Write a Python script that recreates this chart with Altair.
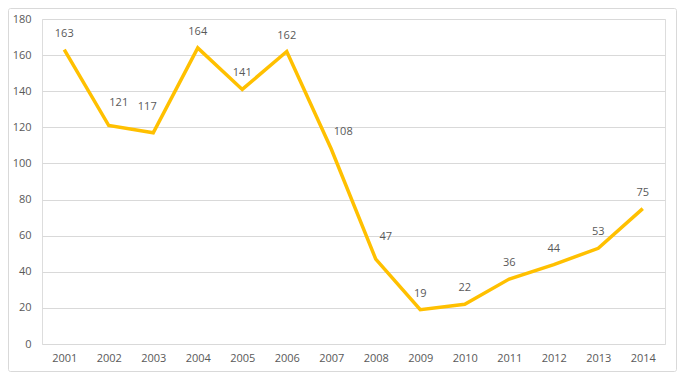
import altair as alt
import pandas as pd

years = [str(y) for y in range(2001, 2015)]
values = [163, 121, 117, 164, 141, 162, 108, 47, 19, 22, 36, 44, 53, 75]

# label placement tweaks (dx, dy) for labels moved off the line
label_nudges = {"2002": (10, -23), "2003": (-6, -26), "2007": (12, -17), "2008": (10, -22)}

df = pd.DataFrame({"year": years, "value": values})

W, H = 623, 325
FONT = "Open Sans"
TXT = "#595959"

x = alt.X("year:O", title=None, sort=years,
          scale=alt.Scale(type="point", padding=0.5),
          axis=alt.Axis(labelAngle=0, ticks=False, domain=False, labelPadding=8,
                        labelFont=FONT, labelFontSize=11, labelColor=TXT))
y = alt.Y("value:Q", title=None,
          scale=alt.Scale(domain=[0, 180], nice=False),
          axis=alt.Axis(values=list(range(0, 181, 20)), ticks=False, domain=False,
                        labelPadding=11, gridColor="#d9d9d9", gridWidth=1,
                        labelFont=FONT, labelFontSize=11, labelColor=TXT))

base = alt.Chart(df)

border = alt.Chart(pd.DataFrame({"a": [0]})).mark_rect(
    fill=None, stroke="#d9d9d9", strokeWidth=1, cornerRadius=2
).encode(x=alt.value(-33.5), x2=alt.value(W + 11.5), y=alt.value(-10.5), y2=alt.value(H + 27.5))

line = base.mark_line(color="#FFC000", strokeWidth=3.5, strokeJoin="miter").encode(x=x, y=y)

nudged = list(label_nudges.keys())
layers = [border, line]
layers.append(
    base.transform_filter(
        {"not": alt.FieldOneOfPredicate(field="year", oneOf=nudged)}
    ).mark_text(dy=-16, font=FONT, fontSize=11, color=TXT).encode(x=x, y=y, text="value:Q")
)
for yr, (dx, dy) in label_nudges.items():
    layers.append(
        base.transform_filter(alt.FieldEqualPredicate(field="year", equal=yr))
        .mark_text(dx=dx, dy=dy, font=FONT, fontSize=11, color=TXT)
        .encode(x=x, y=y, text="value:Q")
    )

chart = alt.layer(*layers).properties(
    width=W, height=H,
    autosize=alt.AutoSizeParams(type="none"),
    padding={"left": 34, "top": 11, "right": 12, "bottom": 29},
).configure_view(stroke=None).configure(background="white")

chart.save("out.html", embed_options={"renderer": "svg", "actions": False})
